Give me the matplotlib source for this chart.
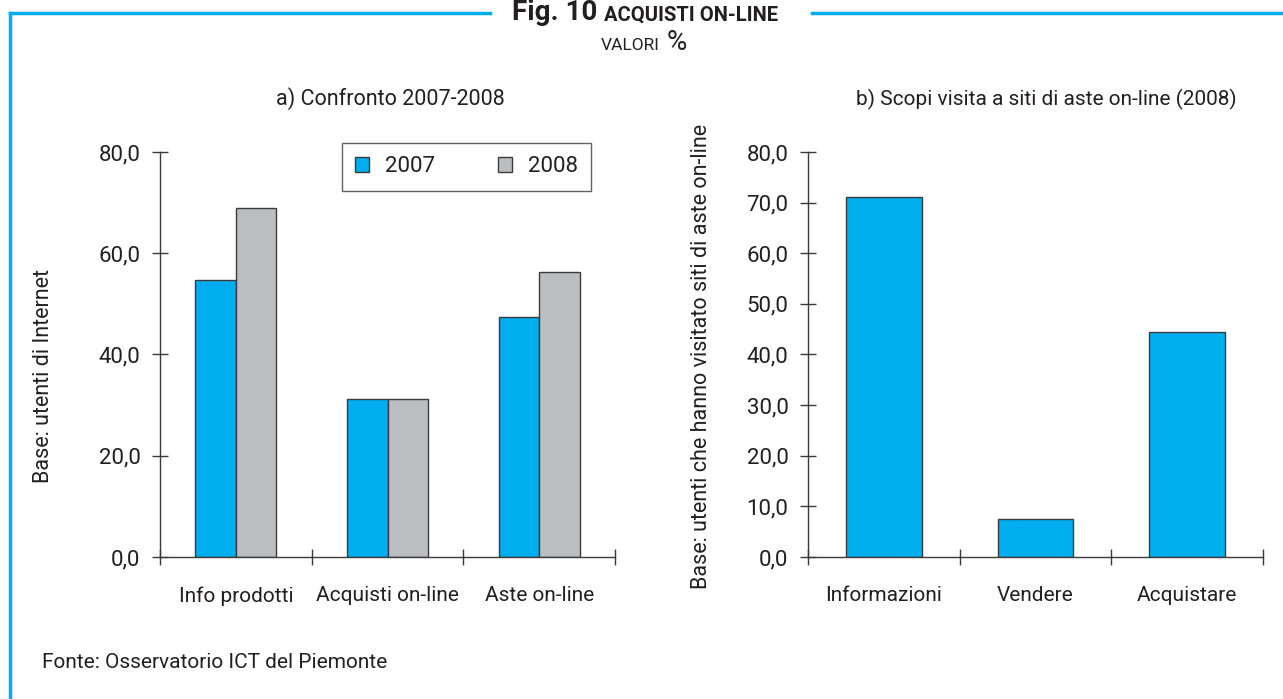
import matplotlib
matplotlib.use("Agg")
import matplotlib.pyplot as plt
from matplotlib.lines import Line2D
import numpy as np

plt.rcParams['font.family'] = ['Roboto', 'DejaVu Sans']

# a) Confronto 2007-2008
cat_a = ["Info prodotti", "Acquisti on-line", "Aste on-line"]
val_2007 = [54.8, 31.3, 47.5]
val_2008 = [68.9, 31.3, 56.2]

# b) Scopi visita a siti di aste on-line (2008)
cat_b = ["Informazioni", "Vendere", "Acquistare"]
val_b = [71.2, 7.5, 44.5]

blue = "#00AEEF"
grey = "#BCBDC0"
edge = "#3a3a3a"
text_col = "#231F20"

fig = plt.figure(figsize=(12.83, 6.99), dpi=100)

ax1 = fig.add_axes([160 / 1283, 1 - 557 / 699, 455 / 1283, 405 / 699])
ax2 = fig.add_axes([808 / 1283, 1 - 557 / 699, 455 / 1283, 405 / 699])

x = np.arange(len(cat_a))
w = 0.267
ax1.bar(x - w / 2, val_2007, w, color=blue, edgecolor=edge, linewidth=1, label="2007")
ax1.bar(x + w / 2, val_2008, w, color=grey, edgecolor=edge, linewidth=1, label="2008")

xb = np.arange(len(cat_b))
ax2.bar(xb, val_b, 0.5, color=blue, edgecolor=edge, linewidth=1)

for ax, cats, step in [(ax1, cat_a, 20), (ax2, cat_b, 10)]:
    ax.set_xlim(-0.5, len(cats) - 0.5)
    ax.set_ylim(0, 80)
    ax.set_yticks(np.arange(0, 81, step))
    ax.set_yticklabels([f"{v:.1f}".replace(".", ",") for v in np.arange(0, 81, step)],
                       fontsize=16, color=text_col)
    ax.set_xticks(np.arange(len(cats)))
    ax.set_xticklabels(cats, fontsize=15, color=text_col)
    ax.set_xticks(np.arange(len(cats) + 1) - 0.5, minor=True)
    ax.tick_params(axis='x', which='major', length=0, pad=21)
    ax.tick_params(axis='x', which='minor', direction='inout', length=12, width=1, color=edge)
    ax.tick_params(axis='y', direction='inout', length=12, width=1, color=edge, pad=8)
    for s in ["top", "right"]:
        ax.spines[s].set_visible(False)
    for s in ["left", "bottom"]:
        ax.spines[s].set_color(edge)
        ax.spines[s].set_linewidth(1)
    ax.spines["bottom"].set_zorder(3)

ax1.set_ylabel("Base: utenti di Internet", fontsize=15.5, color=text_col)
ax2.set_ylabel("Base: utenti che hanno visitato siti di aste on-line", fontsize=15.5,
               color=text_col)
ax1.yaxis.set_label_coords(-0.232, 0.447)
ax2.yaxis.set_label_coords(-0.21, 0.496)

leg = ax1.legend(loc="upper left", bbox_to_anchor=(342 / 1283, 1 - 143 / 699, 249 / 1283, 0.0),
                 bbox_transform=fig.transFigure, ncol=2, frameon=True, fancybox=False,
                 fontsize=16, handlelength=0.63, handleheight=0.63, columnspacing=1.7,
                 borderpad=0.6, mode="expand", handletextpad=0.7, borderaxespad=0)
leg.get_frame().set_edgecolor(edge)
leg.get_frame().set_linewidth(1)
for t in leg.get_texts():
    t.set_color(text_col)

fig.text(390 / 1283, 1 - 99 / 699, "a) Confronto 2007-2008", ha="center", va="center",
         fontsize=15.5, color=text_col)
fig.text(1046 / 1283, 1 - 99 / 699, "b) Scopi visita a siti di aste on-line (2008)",
         ha="center", va="center", fontsize=15, color=text_col)

# frame lines
fig.add_artist(Line2D([10 / 1283, 490 / 1283], [1 - 13 / 699] * 2, color=blue, lw=2.5))
fig.add_artist(Line2D([812 / 1283, 1], [1 - 13 / 699] * 2, color=blue, lw=2.5))
fig.add_artist(Line2D([10 / 1283] * 2, [0, 1 - 13 / 699], color=blue, lw=2.5))

fig.text(597 / 1283, 1 - 13 / 699, "Fig. 10", ha="right", va="center", fontsize=20,
         fontweight="bold", color=text_col)
fig.text(604 / 1283, 1 - 15 / 699, "ACQUISTI ON-LINE", ha="left", va="center", fontsize=14.5,
         fontweight="bold", color=text_col)
fig.text(660 / 1283, 1 - 45 / 699, "VALORI", ha="right", va="center", fontsize=12.5,
         color=text_col)
fig.text(667 / 1283, 1 - 43 / 699, "%", ha="left", va="center", fontsize=20,
         color=text_col)

fig.text(42 / 1283, 1 - 663 / 699, "Fonte: Osservatorio ICT del Piemonte", ha="left",
         va="center", fontsize=15, color=text_col)

fig.savefig("out.png", dpi=100)
